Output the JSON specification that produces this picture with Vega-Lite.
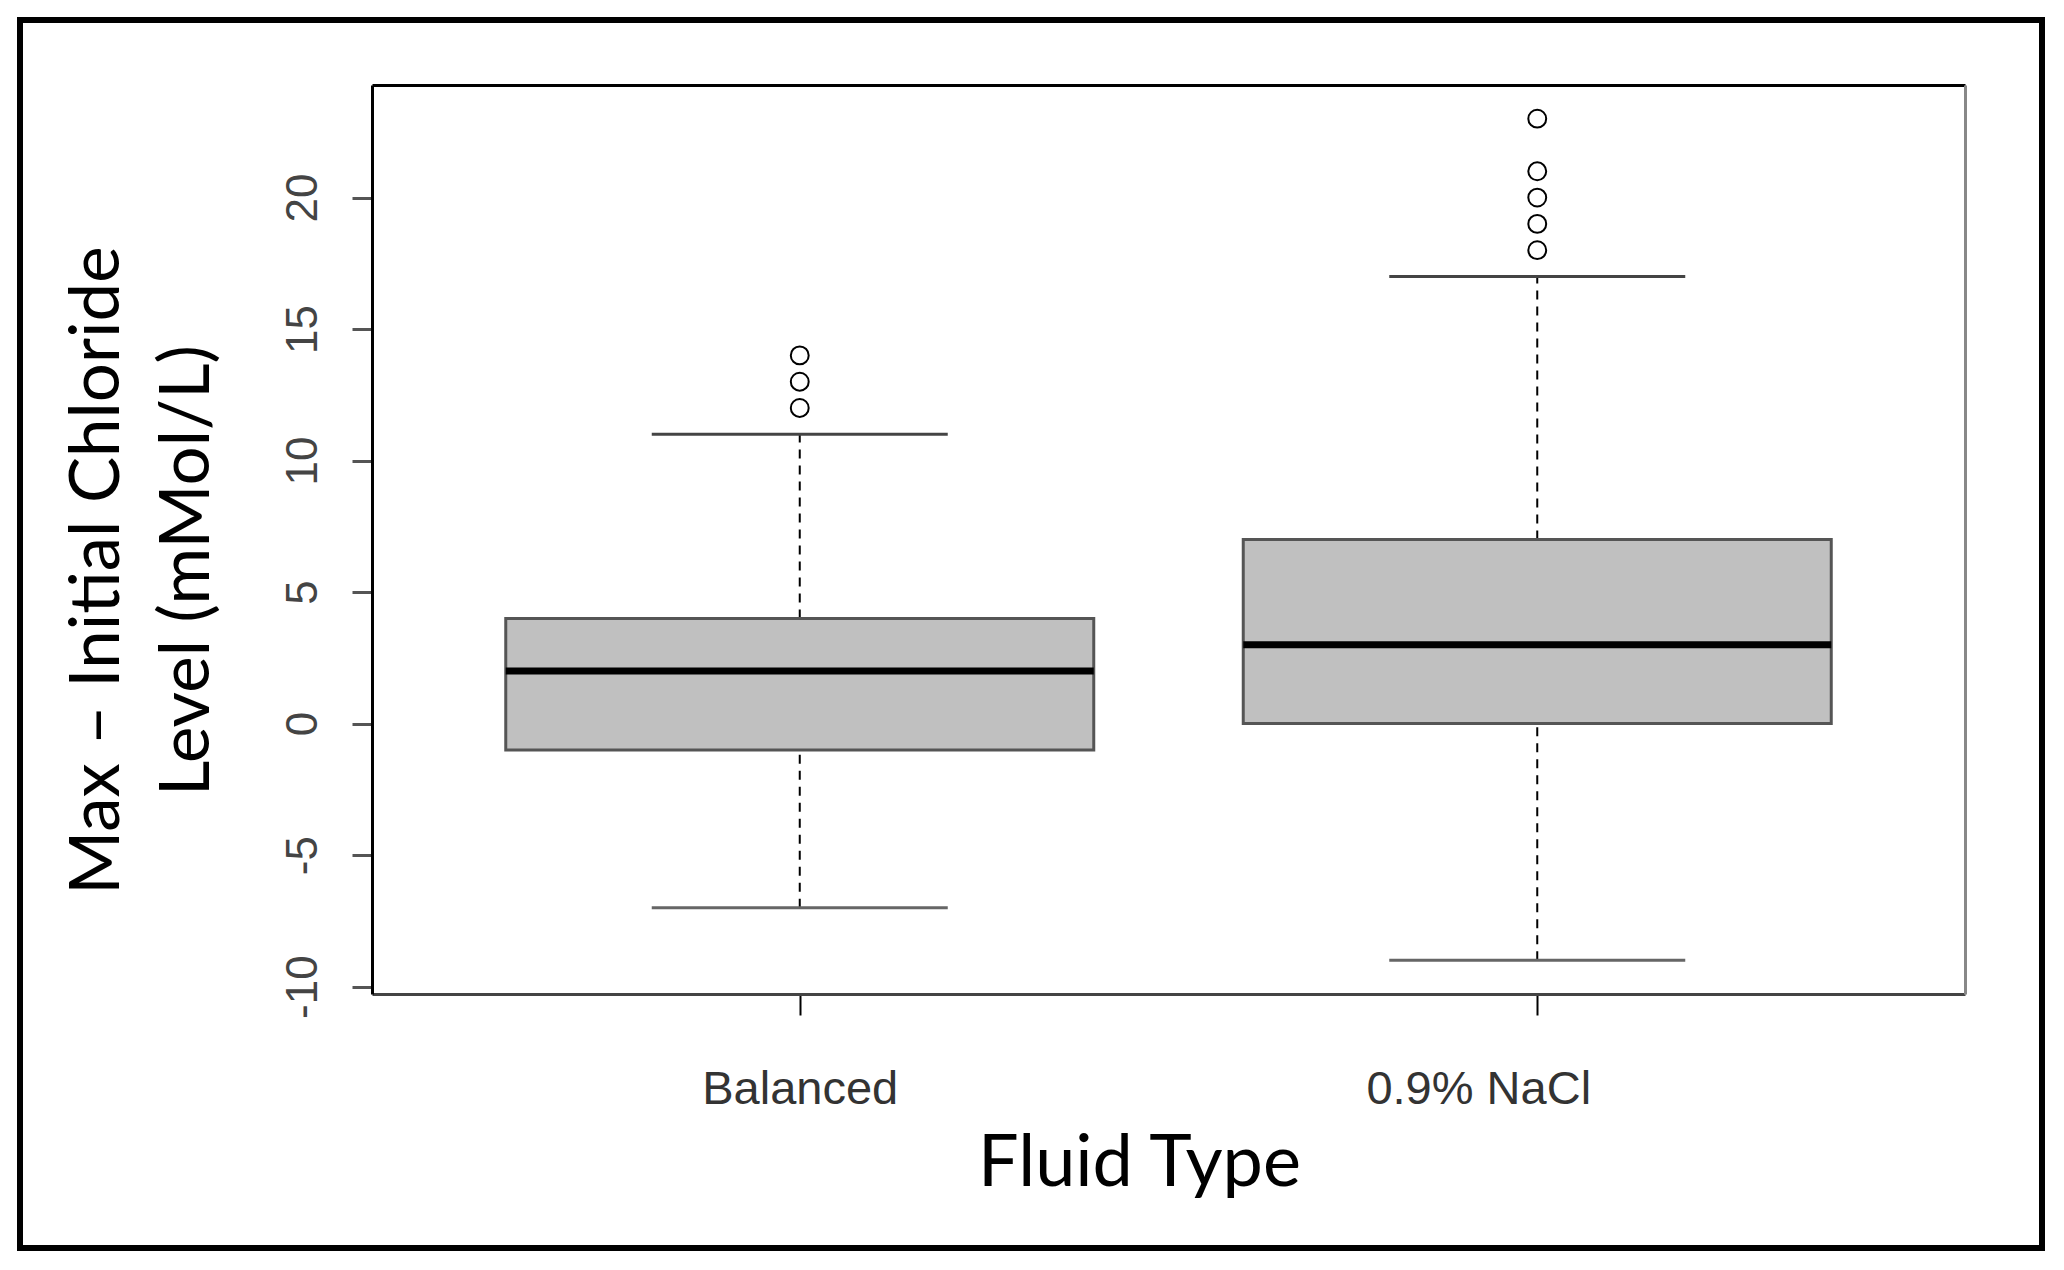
{
  "$schema": "https://vega.github.io/schema/vega-lite/v6.json",
  "autosize": "none",
  "width": 2022,
  "height": 1228,
  "padding": {"left": 20, "top": 20, "right": 22, "bottom": 22},
  "background": "white",
  "config": {
    "view": {"stroke": "black", "strokeWidth": 6},
    "axis": {"grid": false}
  },
  "datasets": {
    "stats": [
      {"fluid": "Balanced", "lower": -7, "q1": -1, "median": 2, "q3": 4, "upper": 11},
      {"fluid": "0.9% NaCl", "lower": -9, "q1": 0, "median": 3, "q3": 7, "upper": 17}
    ],
    "outliers": [
      {"fluid": "Balanced", "value": 12},
      {"fluid": "Balanced", "value": 13},
      {"fluid": "Balanced", "value": 14},
      {"fluid": "0.9% NaCl", "value": 18},
      {"fluid": "0.9% NaCl", "value": 19},
      {"fluid": "0.9% NaCl", "value": 20},
      {"fluid": "0.9% NaCl", "value": 21},
      {"fluid": "0.9% NaCl", "value": 23}
    ]
  },
  "resolve": {"axis": {"x": "independent", "y": "independent"}},
  "layer": [
    {
      "data": {"name": "stats"},
      "mark": {"type": "rule", "strokeDash": [9, 7], "strokeWidth": 2, "color": "black", "opacity": 1},
      "encoding": {
        "x": {"field": "fluid", "type": "nominal", "sort": ["Balanced", "0.9% NaCl"],
              "scale": {"type": "point", "range": [352, 1945], "padding": 0.58}, "axis": null},
        "y": {"field": "q3", "type": "quantitative",
              "scale": {"domain": [-10.28, 24.28], "range": [974, 65], "nice": false, "zero": false}, "axis": null},
        "y2": {"field": "upper"}
      }
    },
    {
      "data": {"name": "stats"},
      "mark": {"type": "rule", "strokeDash": [9, 7], "strokeWidth": 2, "color": "black", "opacity": 1},
      "encoding": {
        "x": {"field": "fluid", "type": "nominal", "sort": ["Balanced", "0.9% NaCl"], "axis": null},
        "y": {"field": "lower", "type": "quantitative", "axis": null},
        "y2": {"field": "q1"}
      }
    },
    {
      "data": {"name": "stats"},
      "mark": {"type": "bar", "size": 588, "fill": "#c0c0c0", "stroke": "#555555", "strokeWidth": 3, "opacity": 1},
      "encoding": {
        "x": {"field": "fluid", "type": "nominal", "sort": ["Balanced", "0.9% NaCl"],
              "axis": {
                "title": "Fluid Type",
                "orient": "bottom",
                "offset": -254,
                "domainColor": "#444444", "domainWidth": 3,
                "tickColor": "black", "tickWidth": 2, "tickSize": 21,
                "labelFont": "Liberation Sans", "labelFontSize": 47, "labelColor": "#333333", "labelLimit": 0,
                "labelAngle": 0, "labelBaseline": "alphabetic", "labelPadding": 88,
                "labelOffset": {"condition": {"test": "datum.label === '0.9% NaCl'", "value": -59}, "value": 0},
                "titleFont": "Lato", "titleFontSize": 72, "titleFontWeight": "normal", "titleColor": "black",
                "titleX": 1119, "titleY": 191, "titleAlign": "center", "titleBaseline": "alphabetic"
              }},
        "y": {"field": "q1", "type": "quantitative",
              "axis": {
                "title": ["Max – Initial Chloride", "Level (mMol/L)"],
                "orient": "left",
                "offset": -352,
                "values": [-10, -5, 0, 5, 10, 15, 20],
                "labelExpr": "toString(datum.value)",
                "domainColor": "black", "domainWidth": 3,
                "tickColor": "#555555", "tickWidth": 3, "tickSize": 20,
                "labelFont": "Liberation Sans", "labelFontSize": 44, "labelColor": "#444444",
                "labelAngle": 270, "labelAlign": "center", "labelBaseline": "alphabetic", "labelPadding": 36,
                "titleFont": "Lato", "titleFontSize": 69, "titleFontWeight": "normal", "titleColor": "black",
                "titleAngle": 270, "titleX": -275, "titleY": 550, "titleAlign": "center", "titleBaseline": "middle",
                "titleLineHeight": 90
              }},
        "y2": {"field": "q3"}
      }
    },
    {
      "data": {"name": "stats"},
      "mark": {"type": "tick", "size": 296, "thickness": 3, "color": "#444444", "opacity": 1},
      "encoding": {
        "x": {"field": "fluid", "type": "nominal", "sort": ["Balanced", "0.9% NaCl"],
              "axis": {"orient": "top", "offset": -65, "title": null, "labels": false, "ticks": false,
                       "domainColor": "black", "domainWidth": 3}},
        "y": {"field": "upper", "type": "quantitative",
              "axis": {"orient": "right", "offset": -77, "title": null, "labels": false, "ticks": false,
                       "domainColor": "#888888", "domainWidth": 3}}
      }
    },
    {
      "data": {"name": "stats"},
      "mark": {"type": "tick", "size": 296, "thickness": 3, "color": "#666666", "opacity": 1},
      "encoding": {
        "x": {"field": "fluid", "type": "nominal", "sort": ["Balanced", "0.9% NaCl"], "axis": null},
        "y": {"field": "lower", "type": "quantitative", "axis": null}
      }
    },
    {
      "data": {"name": "stats"},
      "mark": {"type": "tick", "size": 588, "thickness": 7, "color": "black", "opacity": 1},
      "encoding": {
        "x": {"field": "fluid", "type": "nominal", "sort": ["Balanced", "0.9% NaCl"], "axis": null},
        "y": {"field": "median", "type": "quantitative", "axis": null}
      }
    },
    {
      "data": {"name": "outliers"},
      "mark": {"type": "point", "shape": "circle", "size": 320, "filled": false, "stroke": "black", "strokeWidth": 2, "opacity": 1},
      "encoding": {
        "x": {"field": "fluid", "type": "nominal", "sort": ["Balanced", "0.9% NaCl"], "axis": null},
        "y": {"field": "value", "type": "quantitative", "axis": null}
      }
    }
  ]
}
